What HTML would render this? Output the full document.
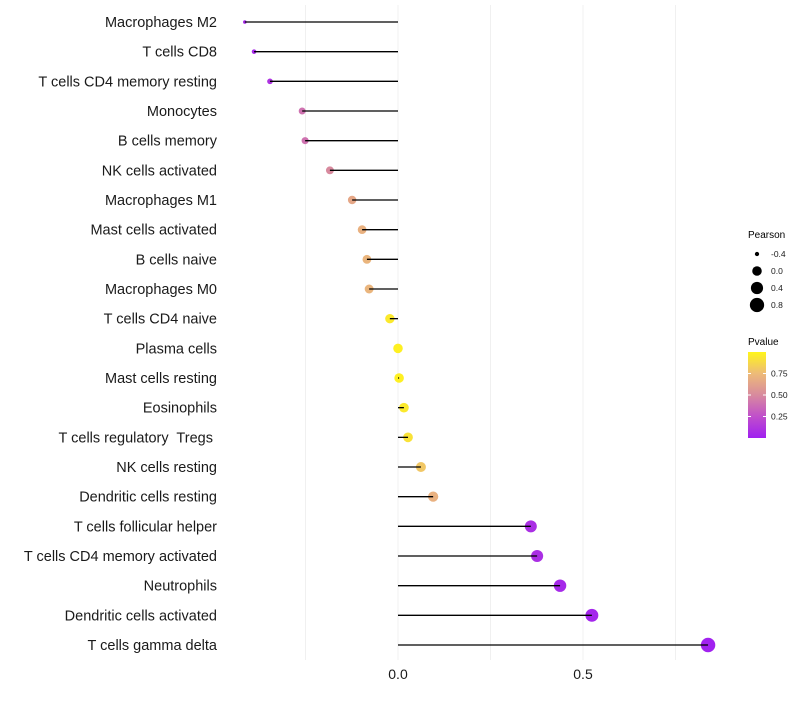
<!DOCTYPE html>
<html><head><meta charset="utf-8"><style>
body{margin:0;background:#fff;}
svg{font-family:"Liberation Sans",sans-serif;}
</style></head><body>
<svg id="chart" width="800" height="700">
<defs><linearGradient id="pg" x1="0" y1="1" x2="0" y2="0">
<stop offset="0" stop-color="#A020F0"/><stop offset="0.25" stop-color="#C04FCB"/>
<stop offset="0.5" stop-color="#D88A9E"/><stop offset="0.75" stop-color="#EDBB78"/>
<stop offset="1" stop-color="#FFF51A"/></linearGradient></defs>
<g id="grid"></g>
<g id="marks"></g>
<g id="ylabels"></g>
<g id="xlabels"></g>
<g>
<text x="748" y="238" font-size="10">Pearson</text>
<g id="sizeLeg"></g>
</g>
<g>
<text x="748" y="345" font-size="10">Pvalue</text>
<rect x="748" y="352" width="18" height="86" fill="url(#pg)"/>
<g id="colLeg"></g>
</g>
</svg>
<script>
const cells=["Macrophages M2","T cells CD8","T cells CD4 memory resting","Monocytes","B cells memory","NK cells activated","Macrophages M1","Mast cells activated","B cells naive","Macrophages M0","T cells CD4 naive","Plasma cells","Mast cells resting","Eosinophils","T cells regulatory  Tregs ","NK cells resting","Dendritic cells resting","T cells follicular helper","T cells CD4 memory activated","Neutrophils","Dendritic cells activated","T cells gamma delta"];
const pearson=[-0.414,-0.389,-0.346,-0.259,-0.251,-0.184,-0.124,-0.097,-0.084,-0.078,-0.022,0.0,0.003,0.016,0.027,0.062,0.095,0.359,0.376,0.438,0.524,0.838];
const pvalue=[0.05,0.05,0.1,0.4,0.4,0.5,0.65,0.7,0.72,0.72,0.95,0.98,0.98,0.95,0.92,0.8,0.7,0.08,0.08,0.05,0.03,0.01];
const xTicks=[0,0.5];
const xGrid=[-0.25,0,0.25,0.5,0.75];
const sizeLegVals=[-0.4,0,0.4,0.8];
const colLegVals=[0.75,0.5,0.25];
const NS="http://www.w3.org/2000/svg";
const X=v=>398+v*370;
const Y=i=>22+i*(623/21);
const R=v=>1.4+5.2*Math.sqrt(Math.max(0,v+0.42));
const stops=[[0,[160,32,240]],[0.25,[192,79,203]],[0.5,[216,138,158]],[0.75,[237,187,120]],[1,[255,245,26]]];
function col(p){for(let k=1;k<stops.length;k++){if(p<=stops[k][0]){const a=stops[k-1],b=stops[k],t=(p-a[0])/(b[0]-a[0]);return "rgb("+a[1].map((c,j)=>Math.round(c+(b[1][j]-c)*t)).join(",")+")";}}return "rgb(255,245,26)";}
function mk(t,a,p){const e=document.createElementNS(NS,t);for(const k in a)e.setAttribute(k,a[k]);p.appendChild(e);return e;}
const g=document.getElementById('grid');
xGrid.forEach(v=>{const l=mk('line',{x1:X(v),x2:X(v),y1:5,y2:660,stroke:'#f0f0f0','stroke-width':1},g);

});
const m=document.getElementById('marks'),yl=document.getElementById('ylabels');
cells.forEach((c,i)=>{
const d=mk('circle',{cx:X(pearson[i]),cy:Y(i),r:R(pearson[i]),fill:col(pvalue[i])},m);


const l=mk('line',{x1:X(0),x2:X(pearson[i]),y1:Y(i),y2:Y(i),stroke:'#000','stroke-width':1.3},m);


const t=mk('text',{x:217,y:Y(i)+5,'text-anchor':'end','font-size':14.5,fill:'#1a1a1a','xml:space':'preserve'},yl);
t.style.whiteSpace='pre';t.textContent=c;


});
const xl=document.getElementById('xlabels');
xTicks.forEach(v=>{const t=mk('text',{x:X(v),y:679,'text-anchor':'middle','font-size':14,fill:'#1a1a1a'},xl);t.textContent=v.toFixed(1);

});
const sl=document.getElementById('sizeLeg');
sizeLegVals.forEach((v,k)=>{const y=254+k*17;
const c=mk('circle',{cx:757,cy:y,r:R(v),fill:'#000'},sl);


const t=mk('text',{x:771,y:y+3,'font-size':8.5,fill:'#1a1a1a'},sl);t.textContent=v.toFixed(1);

});
const cl=document.getElementById('colLeg');
colLegVals.forEach(v=>{const y=438-v*86;
const t=mk('text',{x:771,y:y+3,'font-size':8.5,fill:'#1a1a1a'},cl);t.textContent=v.toFixed(2);


mk('line',{x1:748,x2:751,y1:y,y2:y,stroke:'#fff'},cl);mk('line',{x1:763,x2:766,y1:y,y2:y,stroke:'#fff'},cl);});
</script>
</body></html>
